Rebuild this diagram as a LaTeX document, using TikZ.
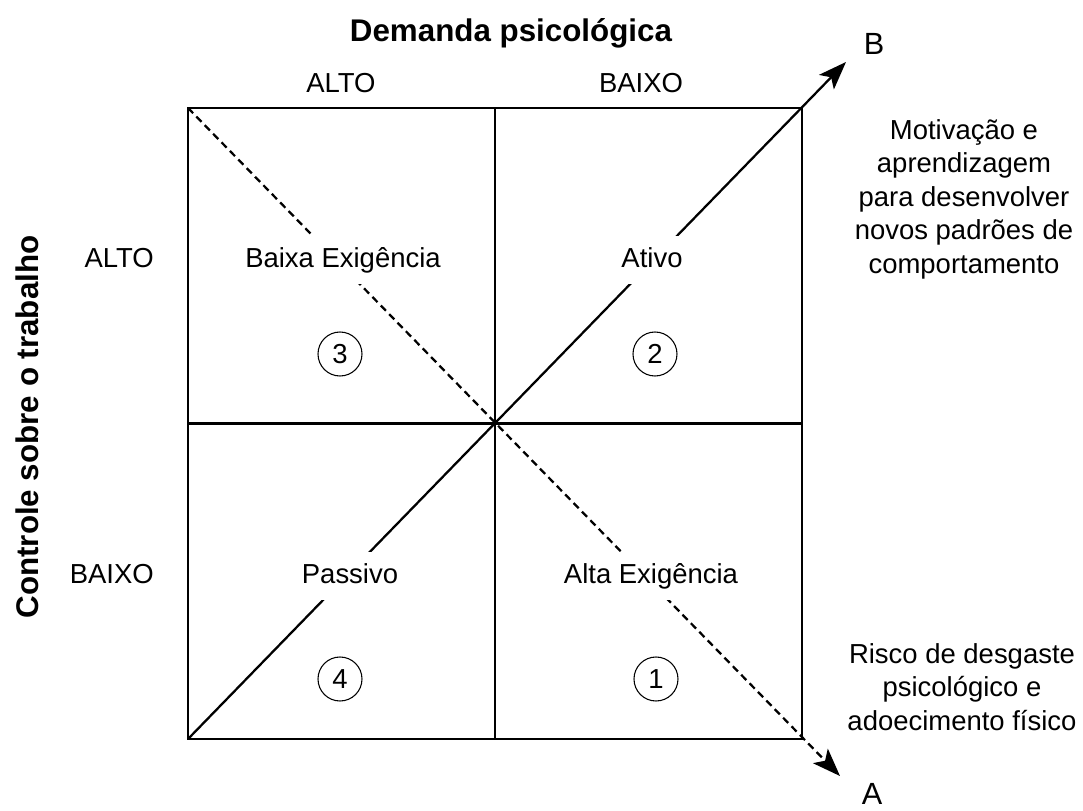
\documentclass[tikz,border=0pt]{standalone}
\usepackage{fontspec}
\setmainfont{Liberation Sans}
\usetikzlibrary{arrows.meta}
\newcommand\regfont{\fontsize{20.6pt}{25.1pt}\selectfont}
\newcommand\bigfont{\fontsize{23pt}{27pt}\selectfont}
\newcommand\boldfont{\fontsize{23.5pt}{28pt}\selectfont\bfseries}
\begin{document}
\begin{tikzpicture}[x=0.75pt,y=-0.75pt,
  boxline/.style={line width=2.2pt,line cap=rect},
  diagline/.style={line width=1.7pt},
  dashline/.style={line width=1.7pt,dash pattern=on 5.5pt off 3.5pt},
  tipstyle/.style={-{Stealth[length=21pt,width=15.5pt,inset=5pt]}},
  qlabel/.style={fill=white,text height=15pt,text depth=4.5pt,inner xsep=4pt,inner ysep=8pt,anchor=base,font=\regfont},
  plain/.style={font=\regfont,inner sep=0pt},
  numc/.style={draw,circle,line width=0.8pt,minimum size=33pt,inner sep=0pt,font=\regfont,fill=white},
  side/.style={font=\regfont,align=center,inner sep=0pt,anchor=base}]
\useasboundingbox (0,0) rectangle (1083,811);
% corners and mid points
\coordinate (NW) at (188,108);
\coordinate (NE) at (802,108);
\coordinate (SW) at (188,739);
\coordinate (SE) at (802,739);
\coordinate (NM) at (495,108);
\coordinate (SM) at (495,739);
\coordinate (WM) at (188,423.5);
\coordinate (EM) at (802,423.5);
\coordinate (tipB) at (846,62);
\coordinate (tipA) at (840,776);
% square and dividers
\draw[boxline] (NW) rectangle (SE);
\draw[boxline] (NM) -- (SM);
\draw[boxline] (WM) -- (EM);
% diagonals
\draw[diagline,tipstyle] (SW) -- (tipB);
\draw[dashline,tipstyle] (NW) -- (tipA);
% quadrant labels
\node[qlabel] (q3) at (343,267) {Baixa Exigência};
\node[qlabel] (q2) at (652,267) {Ativo};
\node[qlabel] (q4) at (350,583) {Passivo};
\node[qlabel] (q1) at (651,583) {Alta Exigência};
% numbers
\node[numc] (n3) at (340,354) {3};
\node[numc] (n2) at (655,354) {2};
\node[numc] (n4) at (340,679) {4};
\node[numc] (n1) at (656,679) {1};
% axis titles
\node[font=\boldfont,inner sep=0pt,anchor=base] (dem) at (511,41) {Demanda psicológica};
\node[font=\boldfont,inner sep=0pt,anchor=base,rotate=90] (ctl) at (38,427) {Controle sobre o trabalho};
% axis levels
\node[plain,anchor=base] (tA) at (341,92) {ALTO};
\node[plain,anchor=base] (tB) at (641,92) {BAIXO};
\node[plain,anchor=base east] (lA) at (154,267) {ALTO};
\node[plain,anchor=base east] (lB) at (154,583) {BAIXO};
% arrow labels
\node[font=\bigfont,inner sep=0pt,anchor=base] (lblB) at (874,54) {B};
\node[font=\bigfont,inner sep=0pt,anchor=base] (lblA) at (872,804) {A};
% side texts (base anchor = baseline of last line)
\node[side] (mot) at (964,273) {Motivação e\\aprendizagem\\para desenvolver\\novos padrões de\\comportamento};
\node[side] (ris) at (962,730) {Risco de desgaste\\psicológico e\\adoecimento físico};
\end{tikzpicture}
\end{document}
